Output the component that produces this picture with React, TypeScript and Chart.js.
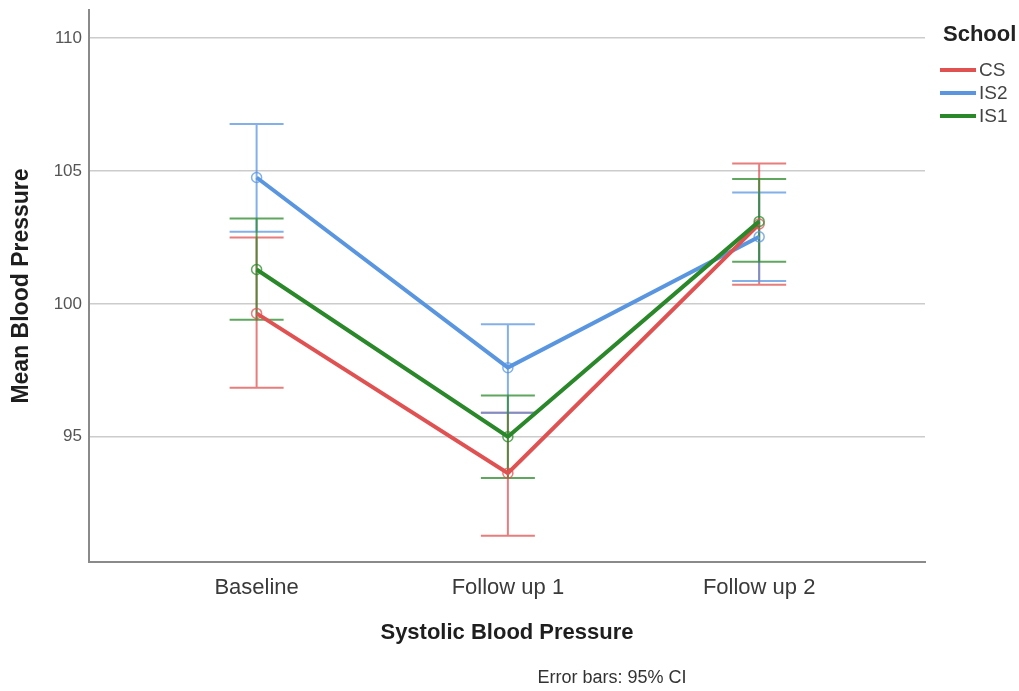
import React, { useEffect, useRef } from 'react';
import { Chart, registerables } from 'chart.js';

Chart.register(...registerables);

// Time points on the x axis
const categories = ['Baseline', 'Follow up 1', 'Follow up 2'];

// Mean systolic pressure per school with 95% confidence limits
const csMean = [99.64, 93.63, 103.0];
const csLow = [96.84, 91.28, 100.72];
const csHigh = [102.49, 95.9, 105.28];

const is2Mean = [104.75, 97.6, 102.52];
const is2Low = [102.71, 95.9, 100.86];
const is2High = [106.76, 99.23, 104.19];

const is1Mean = [101.29, 95.0, 103.1];
const is1Low = [99.4, 93.45, 101.58];
const is1High = [103.21, 96.55, 104.69];

const yTicks = [95, 100, 105, 110];

const FONT = "'Liberation Sans', Arial, Helvetica, sans-serif";

const series = [
  { name: 'CS', mean: csMean, low: csLow, high: csHigh, color: '#E05252', ci: 'rgba(224,82,82,0.75)', order: 1 },
  { name: 'IS2', mean: is2Mean, low: is2Low, high: is2High, color: '#5A96E0', ci: 'rgba(90,150,224,0.75)', order: 2 },
  { name: 'IS1', mean: is1Mean, low: is1Low, high: is1High, color: '#2A882A', ci: 'rgba(42,136,42,0.75)', order: 0 },
];

// Vertical CI whiskers with caps, placed through the chart's scales
const errorBars = {
  id: 'errorBars',
  beforeDatasetsDraw(chart: any) {
    const { ctx, scales } = chart;
    const x = scales.x;
    const y = scales.y;
    const cap = 27;
    chart.data.datasets.forEach((ds: any) => {
      ds.ciLow.forEach((lo: number, i: number) => {
        const hi = ds.ciHigh[i];
        const px = x.getPixelForValue(i);
        const pLo = y.getPixelForValue(lo);
        const pHi = y.getPixelForValue(hi);
        ctx.save();
        ctx.strokeStyle = ds.ciColor;
        ctx.lineWidth = 2;
        ctx.beginPath();
        ctx.moveTo(px, pLo);
        ctx.lineTo(px, pHi);
        ctx.moveTo(px - cap, pLo);
        ctx.lineTo(px + cap, pLo);
        ctx.moveTo(px - cap, pHi);
        ctx.lineTo(px + cap, pHi);
        ctx.stroke();
        ctx.restore();
      });
    });
  },
};

// Legend block on the right and the note under the axis title
const sideLegend = {
  id: 'sideLegend',
  afterDraw(chart: any) {
    const { ctx } = chart;
    ctx.save();
    ctx.textBaseline = 'middle';
    ctx.textAlign = 'left';
    ctx.fillStyle = '#222';
    ctx.font = `bold 22px ${FONT}`;
    ctx.fillText('School', 943, 35);

    const rows = [70, 93, 116];
    chart.data.datasets.forEach((ds: any, i: number) => {
      const yy = rows[i];
      ctx.strokeStyle = ds.borderColor;
      ctx.lineWidth = 4;
      ctx.beginPath();
      ctx.moveTo(940, yy);
      ctx.lineTo(976, yy);
      ctx.stroke();
      ctx.fillStyle = '#444';
      ctx.font = `19px ${FONT}`;
      ctx.fillText(ds.label, 979, yy + 1);
    });

    ctx.fillStyle = '#333';
    ctx.font = `18px ${FONT}`;
    ctx.textAlign = 'center';
    ctx.fillText('Error bars: 95% CI', 612, 678);
    ctx.restore();
  },
};

export default function App() {
  const canvasRef = useRef<HTMLCanvasElement | null>(null);

  useEffect(() => {
    const canvas = canvasRef.current;
    if (!canvas) return;
    const chart = new Chart(canvas, {
      type: 'line',
      data: {
        datasets: series.map((s) => ({
          label: s.name,
          data: s.mean.map((v, i) => ({ x: i, y: v })),
          borderColor: s.color,
          backgroundColor: s.color,
          borderWidth: 4,
          pointRadius: 5,
          pointBorderWidth: 1.5,
          pointBorderColor: s.ci,
          pointBackgroundColor: 'rgba(255,255,255,0)',
          tension: 0,
          order: s.order,
          ciLow: s.low,
          ciHigh: s.high,
          ciColor: s.ci,
        })) as any,
      },
      options: {
        animation: false,
        responsive: false,
        maintainAspectRatio: false,
        layout: { padding: { top: 10, right: 94, bottom: 0, left: 0 } },
        plugins: {
          legend: { display: false },
          tooltip: { enabled: false },
        },
        scales: {
          x: {
            type: 'linear',
            min: -0.667,
            max: 2.66,
            afterBuildTicks: (scale: any) => {
              scale.ticks = categories.map((_, i) => ({ value: i }));
            },
            afterFit: (scale: any) => {
              scale.height = 129;
              scale.paddingLeft = 0;
              scale.paddingRight = 0;
            },
            grid: { display: false, drawTicks: false },
            border: { display: true, color: '#8A8A8A', width: 2 },
            ticks: {
              padding: 13,
              color: '#3A3A3A',
              font: { family: FONT, size: 22 },
              autoSkip: false,
              maxRotation: 0,
              callback: (v: any) => categories[Math.round(Number(v))] ?? '',
            },
            title: {
              display: true,
              text: 'Systolic Blood Pressure',
              color: '#1E1E1E',
              font: { family: FONT, size: 22, weight: 'bold' },
              padding: { top: 0, bottom: 45 },
            },
          },
          y: {
            type: 'linear',
            min: 90.29,
            max: 111.05,
            afterBuildTicks: (scale: any) => {
              scale.ticks = yTicks.map((v) => ({ value: v }));
            },
            afterFit: (scale: any) => {
              scale.width = 89;
              scale.paddingTop = 0;
              scale.paddingBottom = 0;
            },
            grid: { color: '#CCCCCC', lineWidth: 1.5, drawTicks: false },
            border: { display: true, color: '#8A8A8A', width: 2 },
            ticks: {
              padding: 7,
              color: '#555',
              font: { family: FONT, size: 17 },
            },
            title: {
              display: true,
              text: 'Mean Blood Pressure',
              color: '#1E1E1E',
              font: { family: FONT, size: 23, weight: 'bold' },
              padding: { top: 8, bottom: 0 },
            },
          },
        },
      },
      plugins: [errorBars, sideLegend],
    });
    return () => chart.destroy();
  }, []);

  return (
    <div style={{ position: 'absolute', left: 0, top: 0, width: 1019, height: 691, background: '#fff' }}>
      <canvas ref={canvasRef} width={1019} height={691} style={{ display: 'block', width: 1019, height: 691 }} />
    </div>
  );
}
